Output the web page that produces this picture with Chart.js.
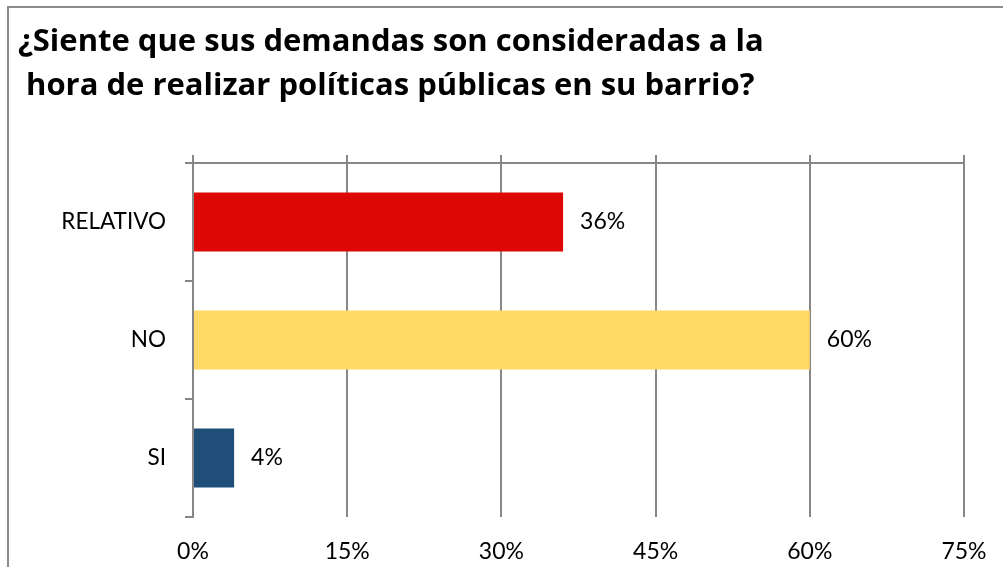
<!DOCTYPE html>
<html>
<head>
<meta charset="utf-8">
<script src="https://cdn.jsdelivr.net/npm/chart.js@4/dist/chart.umd.min.js"></script>
<style>
  html, body { margin: 0; padding: 0; background: #fff; overflow: hidden; }
  #wrap { position: relative; width: 1003px; height: 567px; }
</style>
</head>
<body>
<div id="wrap"><canvas id="c" width="1003" height="567"></canvas></div>
<script>
const titleLines = ["¿Siente que sus demandas son consideradas a la", " hora de realizar políticas públicas en su barrio?"];
const categories = ["RELATIVO", "NO", "SI"];
const values = [36, 60, 4];
const barColors = ["#DD0806", "#FED966", "#1F4E79"];
const xMin = 0, xMax = 75, xStep = 15;

const GRID = "#878787";
const FONT = "Lato";

const framePlugin = {
  id: "frame",
  beforeDraw(chart) {
    const ctx = chart.ctx;
    ctx.save();
    ctx.fillStyle = "#fff";
    ctx.fillRect(0, 0, chart.width, chart.height);
    ctx.strokeStyle = "#8c8c8c";
    ctx.lineWidth = 2;
    ctx.beginPath();
    ctx.moveTo(8, chart.height);
    ctx.lineTo(8, 7);
    ctx.lineTo(chart.width, 7);
    ctx.stroke();
    ctx.restore();
  }
};

const valueLabels = {
  id: "valueLabels",
  afterDatasetsDraw(chart) {
    const ctx = chart.ctx;
    const meta = chart.getDatasetMeta(0);
    ctx.save();
    ctx.font = "23px " + FONT;
    ctx.fillStyle = "#000";
    ctx.textAlign = "left";
    ctx.textBaseline = "middle";
    meta.data.forEach((bar, i) => {
      ctx.fillText(values[i] + "%", bar.x + 17, bar.y);
    });
    ctx.restore();
  }
};

new Chart(document.getElementById("c"), {
  type: "bar",
  data: {
    labels: categories,
    datasets: [{
      data: values,
      backgroundColor: barColors,
      borderWidth: 0,
      categoryPercentage: 1,
      barPercentage: 0.5
    }]
  },
  options: {
    indexAxis: "y",
    responsive: false,
    animation: false,
    devicePixelRatio: 1,
    layout: { padding: { left: 18, right: 39, top: 0, bottom: 0 } },
    plugins: {
      legend: { display: false },
      tooltip: { enabled: false },
      title: {
        display: true,
        text: titleLines,
        align: "start",
        color: "#000",
        font: { family: "Open Sans", size: 31, weight: "bold", lineHeight: 44 / 31 },
        padding: { top: 20, bottom: 47 }
      }
    },
    scales: {
      x: {
        type: "linear",
        position: "bottom",
        min: xMin, max: xMax,
        afterFit(s) { s.height = 50; s.paddingLeft = 0; s.paddingRight = 0; },
        ticks: {
          stepSize: xStep,
          padding: 21,
          color: "#000",
          font: { family: FONT, size: 23 },
          callback: v => v + "%"
        },
        grid: { color: GRID, lineWidth: 2, drawTicks: false, drawOnChartArea: true },
        border: { display: false }
      },
      x2: {
        type: "linear",
        position: "top",
        min: xMin, max: xMax,
        afterFit(s) { s.height = 8; s.paddingLeft = 0; s.paddingRight = 0; },
        ticks: { stepSize: xStep, display: false },
        grid: { color: GRID, lineWidth: 2, drawTicks: true, tickLength: 8, drawOnChartArea: false },
        border: { display: true, color: GRID, width: 2 }
      },
      y: {
        type: "category",
        afterFit(s) { s.width = 175; },
        ticks: {
          padding: 19,
          color: "#000",
          font: { family: FONT, size: 22.5 }
        },
        grid: { color: GRID, lineWidth: 2, offset: true, drawTicks: true, tickLength: 8, drawOnChartArea: false },
        border: { display: true, color: GRID, width: 2 }
      }
    }
  },
  plugins: [framePlugin, valueLabels]
});
</script>
</body>
</html>
